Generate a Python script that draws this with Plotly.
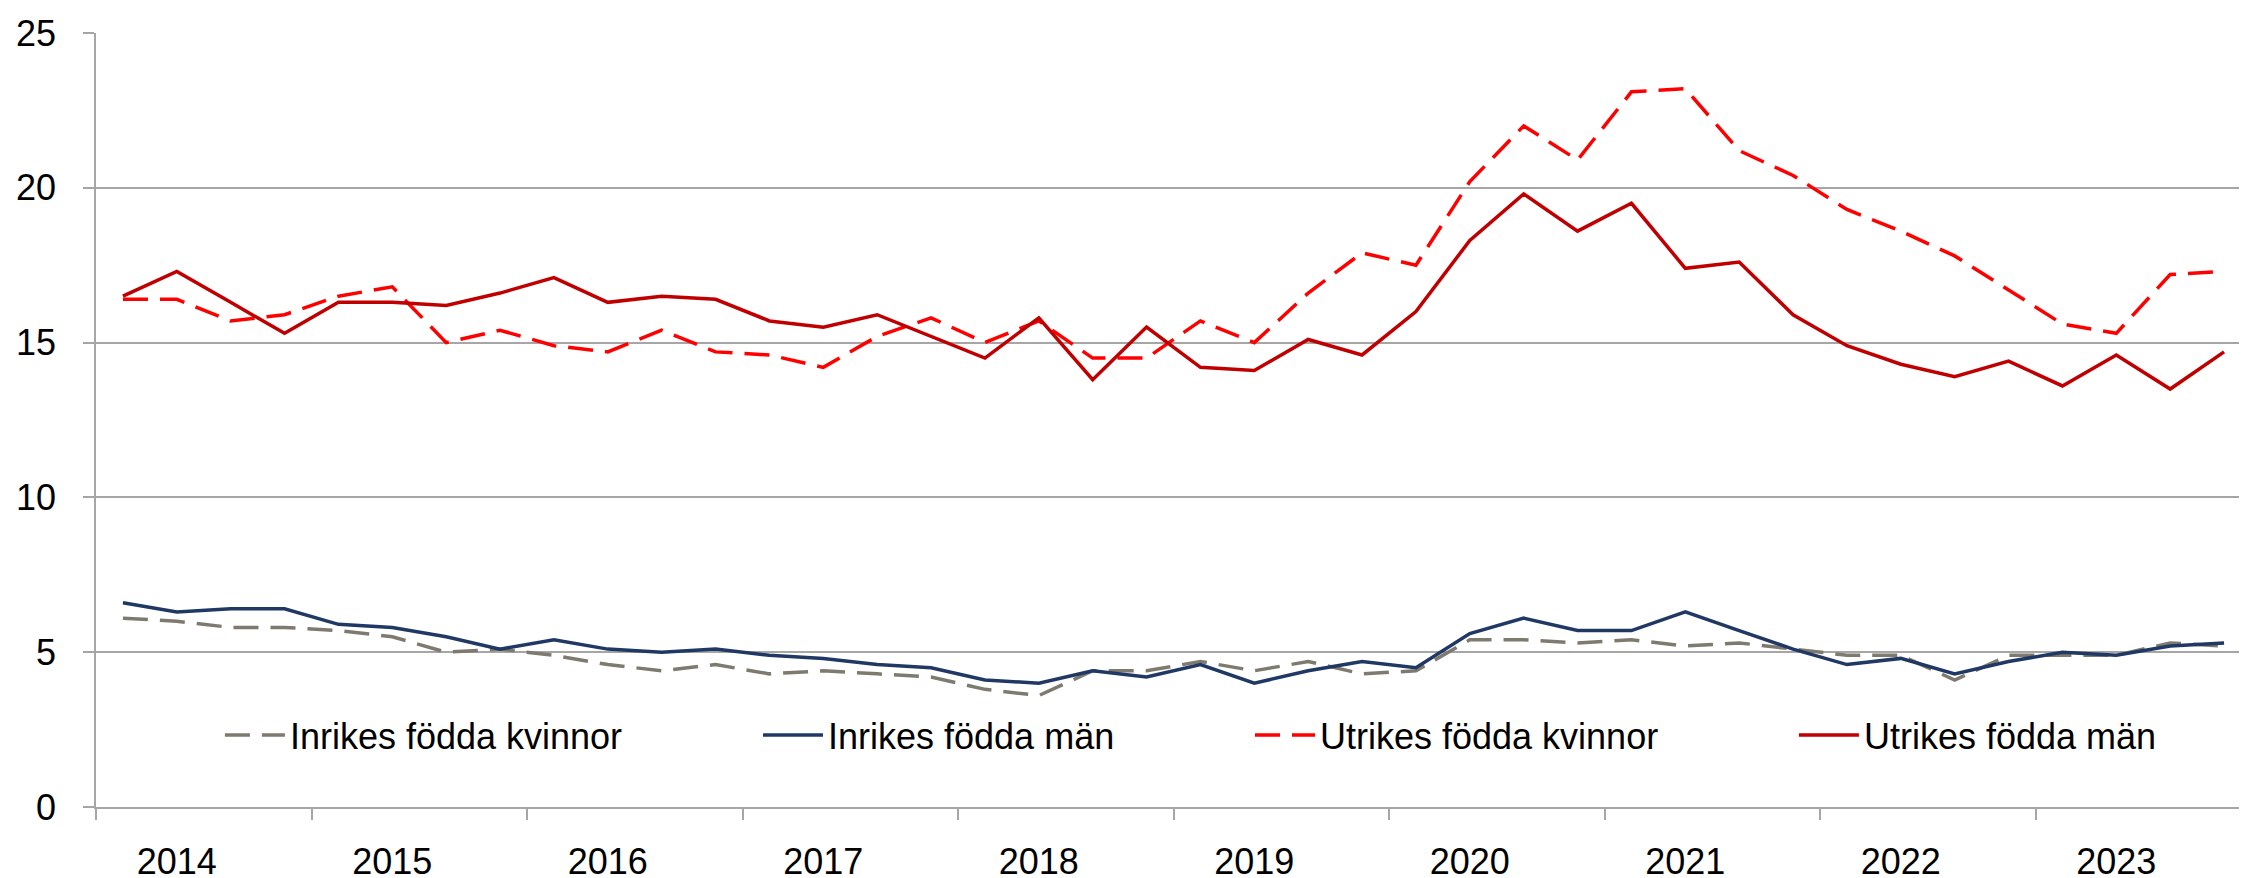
import plotly.graph_objects as go

years = list(range(2014, 2024))
quarters = [f"{y} K{q}" for y in years for q in range(1, 5)]
year_labels = [str(y) for y in years]

inrikes_kvinnor = [6.1, 6.0, 5.8, 5.8, 5.7, 5.5, 5.0, 5.1, 4.9, 4.6,
                   4.4, 4.6, 4.3, 4.4, 4.3, 4.2, 3.8, 3.6, 4.4, 4.4,
                   4.7, 4.4, 4.7, 4.3, 4.4, 5.4, 5.4, 5.3, 5.4, 5.2,
                   5.3, 5.1, 4.9, 4.9, 4.1, 4.9, 4.9, 4.9, 5.3, 5.2]
inrikes_man = [6.6, 6.3, 6.4, 6.4, 5.9, 5.8, 5.5, 5.1, 5.4, 5.1,
               5.0, 5.1, 4.9, 4.8, 4.6, 4.5, 4.1, 4.0, 4.4, 4.2,
               4.6, 4.0, 4.4, 4.7, 4.5, 5.6, 6.1, 5.7, 5.7, 6.3,
               5.7, 5.1, 4.6, 4.8, 4.3, 4.7, 5.0, 4.9, 5.2, 5.3]
utrikes_kvinnor = [16.4, 16.4, 15.7, 15.9, 16.5, 16.8, 15.0, 15.4, 14.9, 14.7,
                   15.4, 14.7, 14.6, 14.2, 15.2, 15.8, 15.0, 15.7, 14.5, 14.5,
                   15.7, 15.0, 16.6, 17.9, 17.5, 20.2, 22.0, 20.9, 23.1, 23.2,
                   21.2, 20.4, 19.3, 18.6, 17.8, 16.7, 15.6, 15.3, 17.2, 17.3]
utrikes_man = [16.5, 17.3, 16.3, 15.3, 16.3, 16.3, 16.2, 16.6, 17.1, 16.3,
               16.5, 16.4, 15.7, 15.5, 15.9, 15.2, 14.5, 15.8, 13.8, 15.5,
               14.2, 14.1, 15.1, 14.6, 16.0, 18.3, 19.8, 18.6, 19.5, 17.4,
               17.6, 15.9, 14.9, 14.3, 13.9, 14.4, 13.6, 14.6, 13.5, 14.7]

# numeric position of each quarter: centre of the quarter within its year
x = [int(s[:4]) + (int(s[-1]) - 0.5) / 4 for s in quarters]

FONT = "Arial, Liberation Sans, sans-serif"
GRID = "#a6a6a6"
DASH = "25px,12px"
LW = 3.5

series = [
    ("Inrikes födda kvinnor", inrikes_kvinnor, "#7f7a6f", DASH, "legend"),
    ("Inrikes födda män", inrikes_man, "#1f3864", "solid", "legend2"),
    ("Utrikes födda kvinnor", utrikes_kvinnor, "#ff0000", DASH, "legend3"),
    ("Utrikes födda män", utrikes_man, "#c00000", "solid", "legend4"),
]

fig = go.Figure()
for name, vals, color, dash, leg in series:
    fig.add_trace(go.Scatter(x=x, y=vals, mode="lines", name=name, legend=leg,
                             line=dict(color=color, width=LW, dash=dash)))

legend_x = {"legend": 0.0575, "legend2": 0.3072, "legend3": 0.5355, "legend4": 0.7879}
legends = {k: dict(orientation="h", x=v, xanchor="left", y=0.093, yanchor="middle",
                   bgcolor="rgba(0,0,0,0)", font=dict(size=36), itemwidth=60)
           for k, v in legend_x.items()}

fig.update_layout(
    width=2247, height=878,
    margin=dict(l=88, r=4, t=25, b=62),
    paper_bgcolor="white", plot_bgcolor="white",
    font=dict(family=FONT, size=36, color="black"),
    showlegend=True,
    **legends,
    xaxis=dict(range=[2014, 2024], tickmode="array",
               tickvals=[y + 0.375 for y in years], ticktext=year_labels,
               ticks="", showgrid=False, showline=True, linecolor=GRID, linewidth=1.5,
               zeroline=False, ticklabelstandoff=22,
               minor=dict(tickmode="array", tickvals=list(range(2014, 2025)),
                          ticks="outside", ticklen=11, tickwidth=1.5, tickcolor=GRID,
                          showgrid=False)),
    yaxis=dict(range=[0, 25], tickmode="linear", tick0=0, dtick=5,
               showgrid=True, gridcolor=GRID, gridwidth=1.5,
               showline=True, linecolor=GRID, linewidth=1.5,
               ticks="outside", ticklen=11, tickwidth=1.5, tickcolor=GRID,
               zeroline=False, ticklabelstandoff=20),
)

fig.write_html("out.html")
